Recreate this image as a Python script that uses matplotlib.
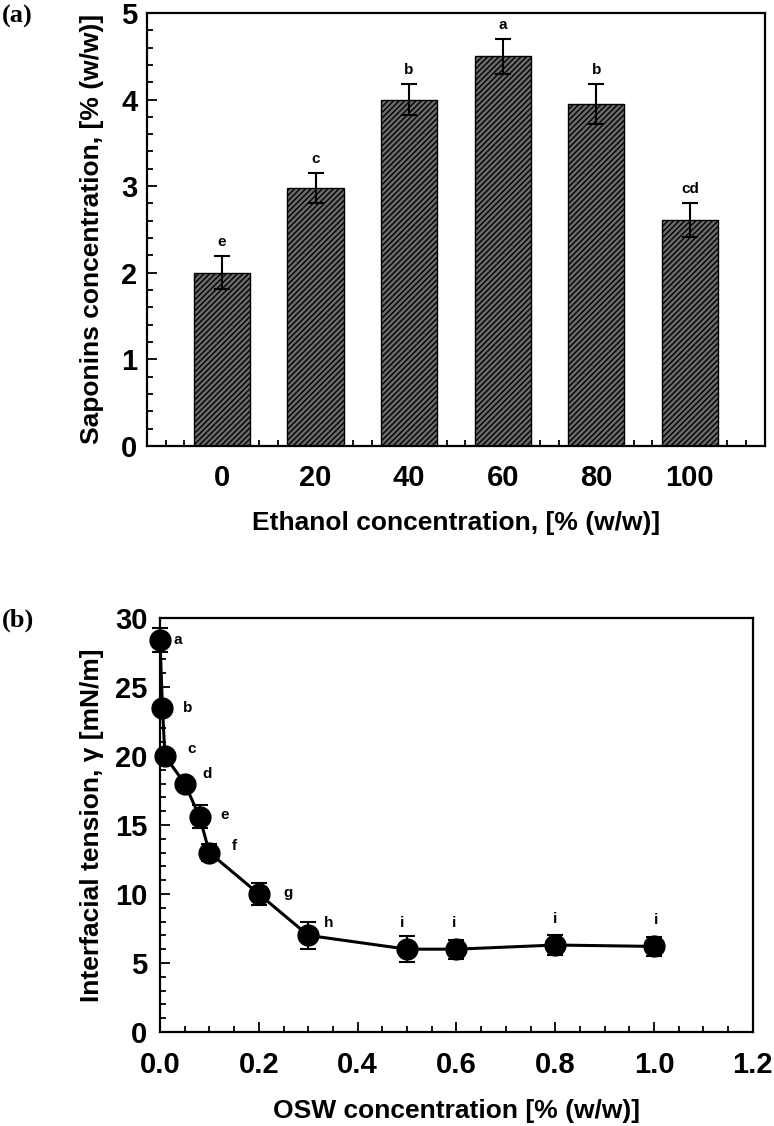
import numpy as np
import matplotlib
matplotlib.use("Agg")
import matplotlib.pyplot as plt
import matplotlib.ticker as ticker

plt.rcParams['font.family'] = ['Liberation Sans', 'DejaVu Sans']
plt.rcParams['font.weight'] = 'bold'
plt.rcParams['hatch.linewidth'] = 1.0
plt.rcParams['hatch.color'] = 'black'

# panel (a) data
ethanol = [0, 20, 40, 60, 80, 100]
saponins = [2.00, 2.98, 4.00, 4.50, 3.95, 2.61]
saponins_err = [0.19, 0.17, 0.18, 0.20, 0.23, 0.20]
saponins_letters = ['e', 'c', 'b', 'a', 'b', 'cd']

# panel (b) data
osw = [0.0, 0.005, 0.01, 0.05, 0.08, 0.1, 0.2, 0.3, 0.5, 0.6, 0.8, 1.0]
tension = [28.4, 23.5, 20.0, 18.0, 15.6, 13.0, 10.0, 7.0, 6.0, 6.0, 6.3, 6.2]
tension_err = [0.9, 0.3, 0.3, 0.3, 0.85, 0.6, 0.8, 1.0, 0.95, 0.7, 0.7, 0.7]
tension_letters = ['a', 'b', 'c', 'd', 'e', 'f', 'g', 'h', 'i', 'i', 'i', 'i']
# label offsets in points (layout only)
letter_offsets = [(10, 0), (15, 0), (16, 5), (13, 7), (15, 1), (16, 5), (18, 1), (11, 9),
                  (-5, 19), (-3, 19), (-2, 19), (0, 19)]

fig = plt.figure(figsize=(7.74, 11.26), dpi=100)


def style_axes(ax):
    for sp in ax.spines.values():
        sp.set_linewidth(1.6)
    ax.tick_params(which='both', direction='in', top=False, right=False, width=1.3)
    ax.tick_params(which='major', length=7, labelsize=21, pad=7)
    ax.tick_params(which='minor', length=4)
    for lab in ax.get_xticklabels() + ax.get_yticklabels():
        lab.set_fontweight('bold')


# ---- (a) bar chart ----
ax1 = fig.add_axes([0.190, 0.604, 0.798, 0.3845])
ax1.set_axisbelow(True)
ax1.bar(ethanol, saponins, width=12, color='#6a6a6a', edgecolor='black',
        linewidth=1.0, hatch='//////', yerr=saponins_err, capsize=6,
        error_kw=dict(elinewidth=1.5, capthick=1.5, ecolor='black'))
for xv, yv, ev, lab in zip(ethanol, saponins, saponins_err, saponins_letters):
    ax1.annotate(lab, (xv, yv + ev), xytext=(0, 5), textcoords='offset points',
                 ha='center', va='bottom', fontsize=11, fontweight='bold')
ax1.set_xlim(-16, 116)
ax1.set_ylim(0, 5)
ax1.xaxis.set_major_locator(ticker.FixedLocator(ethanol))
ax1.xaxis.set_minor_locator(ticker.MultipleLocator(4))
ax1.yaxis.set_major_locator(ticker.MultipleLocator(1))
ax1.yaxis.set_minor_locator(ticker.MultipleLocator(0.2))
style_axes(ax1)
ax1.tick_params(axis='x', which='major', length=0, pad=13)
ax1.set_xlabel('Ethanol concentration, [% (w/w)]', fontsize=19, fontweight='bold', labelpad=14)
ax1.set_ylabel('Saponins concentration, [% (w/w)]', fontsize=19, fontweight='bold', labelpad=12)

# ---- (b) line chart ----
ax2 = fig.add_axes([0.2067, 0.0835, 0.766, 0.3677])
ax2.errorbar(osw, tension, yerr=tension_err, color='black', marker='o', markersize=15,
             linewidth=2.2, elinewidth=1.5, capsize=6, capthick=1.5, clip_on=False, zorder=3)
for xv, yv, lab, off in zip(osw, tension, tension_letters, letter_offsets):
    ax2.annotate(lab, (xv, yv), xytext=off, textcoords='offset points',
                 ha='left', va='center', fontsize=11, fontweight='bold')
ax2.set_xlim(0, 1.2)
ax2.set_ylim(0, 30)
ax2.xaxis.set_major_locator(ticker.MultipleLocator(0.2))
ax2.xaxis.set_minor_locator(ticker.MultipleLocator(0.05))
ax2.xaxis.set_major_formatter(ticker.FormatStrFormatter('%.1f'))
ax2.yaxis.set_major_locator(ticker.MultipleLocator(5))
ax2.yaxis.set_minor_locator(ticker.MultipleLocator(1))
style_axes(ax2)
ax2.tick_params(axis='x', which='major', pad=14)
ax2.tick_params(axis='y', which='major', pad=9)
ax2.set_xlabel('OSW concentration [% (w/w)]', fontsize=19, fontweight='bold', labelpad=14)
ax2.set_ylabel('Interfacial tension, \u03b3 [mN/m]', fontsize=19, fontweight='bold', labelpad=8)

fig.text(0.003, 0.985, '(a)', fontsize=19, fontweight='bold', family='Liberation Serif', va='center')
fig.text(0.003, 0.449, '(b)', fontsize=19, fontweight='bold', family='Liberation Serif', va='center')

fig.savefig('out.png', dpi=100)
